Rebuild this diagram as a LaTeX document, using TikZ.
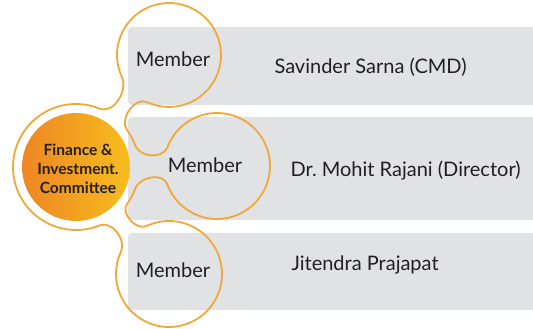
\documentclass[tikz,border=0pt]{standalone}
\usepackage{fontspec}
\setmainfont{Lato}
\usetikzlibrary{calc}
\definecolor{ringorange}{HTML}{F2A838}
\definecolor{boxgray}{HTML}{E1E2E4}
\definecolor{diskleft}{HTML}{EE8624}
\definecolor{diskright}{HTML}{F7BD1D}
\definecolor{inkblack}{HTML}{231F20}

\begin{document}
\begin{tikzpicture}[x=1pt,y=1pt,
    rowbox/.style={fill=boxgray,rounded corners=4pt},
    ring/.style={draw=ringorange,line width=1.8pt},
    member/.style={text=inkblack,font=\fontsize{20}{22}\selectfont,anchor=base},
    person/.style={text=inkblack,font=\fontsize{20}{22}\selectfont,anchor=base west},
    committee/.style={text=inkblack,align=center,font=\bfseries\fontsize{15.5}{19}\selectfont}]
        \useasboundingbox (0,0) rectangle (533,329);
        % grey rows
        \fill[rowbox] (128,224) rectangle (545,302);
        \fill[rowbox] (128,109) rectangle (545,212);
        \fill[rowbox] (128,19) rectangle (545,96);
        % circle centres
        \coordinate (c0) at (76,162);
        \coordinate (ct) at (169,274);
        \coordinate (cm) at (217,163);
        \coordinate (cb) at (169,55);
        \shade[left color=diskleft,right color=diskright] (c0) circle (54);
        % joined outline
        \draw[ring] ($(c0)+(180:63)$) arc[start angle=180,end angle=68,radius=63]
            to[out=-22,in=-65] ($(ct)+(205:52)$) arc[start angle=205,end angle=-115,radius=52]
            to[out=155,in=126] ($(c0)+(36:63)$) arc[start angle=36,end angle=20,radius=63]
            to[out=-70,in=245] ($(cm)+(160:53)$) arc[start angle=160,end angle=-160,radius=53]
            to[out=110,in=70] ($(c0)+(-20:63)$) arc[start angle=-20,end angle=-36,radius=63]
            to[out=-126,in=205] ($(cb)+(115:53)$) arc[start angle=115,end angle=-205,radius=53]
            to[out=65,in=22] ($(c0)+(-68:63)$) arc[start angle=-68,end angle=-180,radius=63]
            -- cycle;
        \node[committee] (fic) at (78,160) {Finance \&\\Investment.\\Committee};
        \node[member] (m1) at (173,262) {Member};
        \node[person] (n1) at (271,255) {Savinder Sarna (CMD)};
        \node[member] (m2) at (205,156) {Member};
        \node[person] (n2) at (287,152) {Dr.\ Mohit Rajani (Director)};
        \node[member] (m3) at (173,51) {Member};
        \node[person] (n3) at (288,58) {Jitendra Prajapat};
\end{tikzpicture}
\end{document}
